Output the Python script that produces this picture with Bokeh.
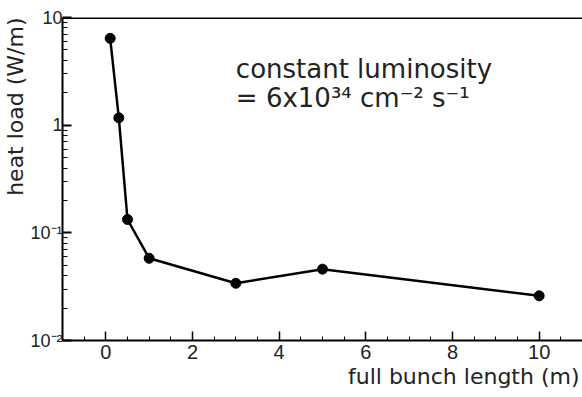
from bokeh.plotting import figure
from bokeh.models import Range1d, FixedTicker, Span, Label, Title
from bokeh.embed import file_html
from bokeh.resources import INLINE

# data
bunch_length = [0.1, 0.3, 0.5, 1.0, 3.0, 5.0, 10.0]
heat_load = [6.4, 1.17, 0.133, 0.058, 0.034, 0.046, 0.026]

x_major = [0, 2, 4, 6, 8, 10]
x_minor = [-1, -0.5, 0.5, 1, 1.5, 2.5, 3, 3.5, 4.5, 5, 5.5, 6.5, 7, 7.5,
           8.5, 9, 9.5, 10.5, 11]
y_major = [0.01, 0.1, 1, 10]
y_minor = [m * d for d in (0.01, 0.1, 1) for m in range(2, 10)]
y_tick_labels = {0.01: "10\u207b\u00b2", 0.1: "10\u207b\u00b9", 1: "1", 10: "10"}

p = figure(width=582, height=397, y_axis_type="log",
           x_range=Range1d(-1, 11), y_range=Range1d(0.01, 10),
           output_backend="svg", toolbar_location=None,
           min_border_left=60, min_border_right=0, min_border_top=17,
           min_border_bottom=57)
p.outline_line_color = None
p.background_fill_color = "white"
p.border_fill_color = "white"
p.xgrid.visible = False
p.ygrid.visible = False

p.line(bunch_length, heat_load, line_color="black", line_width=2.5)
p.scatter(bunch_length, heat_load, size=10, fill_color="black",
          line_color="black")

# x axis
xa = p.xaxis[0]
xa.ticker = FixedTicker(ticks=x_major, minor_ticks=x_minor)
xa.major_tick_in = 9
xa.major_tick_out = 0
xa.minor_tick_in = 4
xa.minor_tick_out = 0
xa.axis_line_width = 2
xa.major_tick_line_width = 1.5
xa.major_label_text_font = "Liberation Sans"
xa.major_label_text_font_size = "20px"
xa.major_label_text_color = "#222222"
xa.major_label_standoff = 4

# y axis
ya = p.yaxis[0]
ya.ticker = FixedTicker(ticks=y_major, minor_ticks=y_minor)
ya.major_tick_in = 9
ya.major_tick_out = 0
ya.minor_tick_in = 5
ya.minor_tick_out = 0
ya.axis_line_width = 2
ya.major_tick_line_width = 2
ya.major_label_overrides = y_tick_labels
ya.major_label_orientation = "horizontal"
ya.major_label_text_font = "Liberation Sans"
ya.major_label_text_font_size = "18px"
ya.major_label_text_color = "#222222"
ya.major_label_standoff = 0

# axis titles (right-aligned along their axes)
p.add_layout(Title(text="full bunch length (m)", align="right",
                   text_font="DejaVu Sans", text_font_size="22px",
                   text_font_style="normal", text_color="#222222",
                   standoff=0, offset=3), "below")
p.add_layout(Title(text="heat load (W/m)", align="right",
                   text_font="DejaVu Sans", text_font_size="22px",
                   text_font_style="normal", text_color="#222222",
                   standoff=0, offset=0), "left")

# thick top line
p.add_layout(Span(location=10, dimension="width", line_color="black",
                  line_width=3))

# annotation
p.add_layout(Label(x=3, y=2.77, y_offset=9, text="constant luminosity",
                   text_align="left", text_baseline="alphabetic",
                   text_font="DejaVu Sans", text_font_size="26px",
                   text_color="#222222"))
p.add_layout(Label(x=3, y=1.52, y_offset=8,
                   text="= 6x10\u00b3\u2074 cm\u207b\u00b2 s\u207b\u00b9",
                   text_align="left", text_baseline="alphabetic",
                   text_font="DejaVu Sans", text_font_size="26px",
                   text_color="#222222"))

open("out.html", "w").write(file_html(p, INLINE))
